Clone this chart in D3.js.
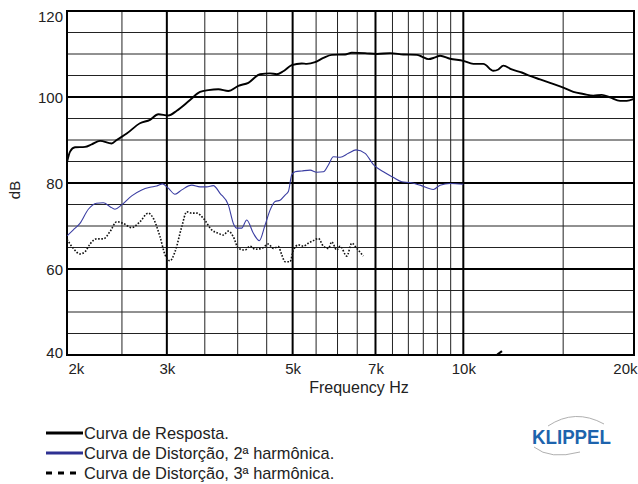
<!DOCTYPE html>
<html><head><meta charset="utf-8">
<script src="https://cdn.jsdelivr.net/npm/d3@7"></script>
<style>body{margin:0;background:#fff} svg{display:block} text{font-family:"Liberation Sans",Arial,sans-serif}</style>
</head><body><svg id="c" width="638" height="484"></svg>
<script>
// ---- data ----
const respFreq = [2000,2025,2066,2152,2211,2287,2398,2447,2549,2690,2802,2898,3018,3123,3296,3433,3550,3698,3851,4011,4177,4380,4562,4688,4815,4982,5189,5295,5477,5665,5861,6187,6358,6711,7037,7428,7840,8278,8448,8677,8916,9099,9476,10000,10416,10847,11297,11529,11765,12173,12677,13112,13655,14221,15012,15634,16282,16957,17545,18146,18898,19420,19943];
const respDb   = [84.8,87.3,88.3,88.4,89.0,89.8,89.2,90.0,91.5,93.9,94.7,96.0,95.7,96.8,99.3,101.2,101.6,101.8,101.4,102.6,103.3,105.3,105.5,105.3,106.0,107.4,107.8,107.7,108.1,109.1,109.8,109.9,110.3,110.2,110.0,110.2,109.9,109.8,109.4,108.8,109.2,109.6,108.9,108.4,107.7,107.7,106.1,106.4,107.3,106.4,105.7,104.9,104.1,103.3,102.2,101.2,100.7,100.3,100.5,99.9,99.1,99.1,99.5];

const h2Freq = [2000,2052,2108,2181,2256,2318,2382,2430,2497,2601,2709,2802,2879,2950,3018,3101,3187,3319,3433,3527,3623,3723,3851,3930,3985,4066,4150,4263,4368,4470,4562,4656,4751,4849,4914,4982,5050,5189,5367,5515,5665,5781,5900,6063,6270,6470,6711,6941,7229,7528,7789,8056,8389,8855,9099,9476,10000];
const h2Db   = [67.7,69.1,70.6,73.9,75.3,75.4,74.5,73.9,74.9,77.0,78.4,79.0,79.3,79.8,78.8,77.4,78.4,79.5,79.1,79.1,79.4,77.6,74.9,70.6,69.5,69.5,71.4,68.3,66.6,70.2,73.7,75.7,76.0,77.2,78.0,81.9,82.6,82.8,83.0,82.5,82.6,84.2,86.1,86.0,86.9,87.7,86.9,84.3,82.6,81.3,80.3,80.1,79.5,78.5,79.5,79.9,79.7];

const h3Freq = [2000,2052,2108,2152,2196,2256,2318,2382,2447,2514,2601,2690,2782,2839,2918,2978,3039,3101,3187,3252,3319,3387,3479,3600,3698,3773,3851,3930,4011,4121,4206,4292,4411,4531,4624,4718,4784,4849,4948,5015,5118,5223,5330,5439,5551,5665,5781,5861,5982,6063,6230,6358,6488,6664];
const h3Db   = [66.9,64.8,63.5,64.0,65.8,67.0,67.0,68.7,71.0,70.6,69.6,71.0,73.0,71.8,67.5,63.3,61.9,64.0,69.8,73.3,73.0,73.0,71.8,69.1,68.3,67.9,68.8,67.5,64.8,64.4,65.3,64.6,64.8,65.8,64.8,65.2,63.3,61.7,61.7,64.4,65.6,65.3,66.0,66.6,67.1,65.3,64.8,66.3,64.4,65.3,63.0,66.0,64.8,63.0];

const strayFreq = [11480,11700];
const strayDb   = [40.1,40.9];

const freqTicks  = [2000,3000,5000,7000,10000,20000];
const freqLabels = ["2k","3k","5k","7k","10k","20k"];
const freqMajor  = [3000,5000,7000,10000];
const freqMinor  = [2500,3500,4000,4500,5500,6000,6500,7500,8000,8500,9000,9500,15000];
const dbTicks    = [40,60,80,100,120];
const dbMajor    = [60,80,100];
const dbMinor    = [45,50,55,65,70,75,85,90,95,105,110,115];

const legendLabels = ["Curva de Resposta.","Curva de Distorção, 2ª harmônica.","Curva de Distorção, 3ª harmônica."];

// ---- chart ----
const svg = d3.select("#c");
const L=67,R=634,T=11,B=355;
const x = d3.scaleLog().domain([2000,20000]).range([L,R]);
const y = d3.scaleLinear().domain([40,120]).range([B,T]);

const g = svg.append("g");
g.selectAll(".hm").data(dbMinor).join("line").attr("x1",L).attr("x2",R)
  .attr("y1",d=>y(d)).attr("y2",d=>y(d)).attr("stroke","#222").attr("stroke-width",1);
g.selectAll(".vm").data(freqMinor).join("line").attr("y1",T).attr("y2",B)
  .attr("x1",d=>x(d)).attr("x2",d=>x(d)).attr("stroke","#222").attr("stroke-width",1);
g.selectAll(".hM").data(dbMajor).join("line").attr("x1",L).attr("x2",R)
  .attr("y1",d=>y(d)).attr("y2",d=>y(d)).attr("stroke","#000").attr("stroke-width",2);
g.selectAll(".vM").data(freqMajor).join("line").attr("y1",T).attr("y2",B)
  .attr("x1",d=>x(d)).attr("x2",d=>x(d)).attr("stroke","#000").attr("stroke-width",2);
g.append("rect").attr("x",L).attr("y",T).attr("width",R-L).attr("height",B-T)
  .attr("fill","none").attr("stroke","#000").attr("stroke-width",2);

const ya = svg.append("g").attr("transform",`translate(${L},0)`)
  .call(d3.axisLeft(y).tickValues(dbTicks).tickSize(0).tickPadding(4));
ya.select(".domain").remove();
ya.selectAll("text").attr("font-size",15).attr("fill","#222")
  .style("font-family",'"Liberation Sans",Arial,sans-serif')
  .attr("dy",d=>d===120?"0.7em":d===40?"0.18em":"0.35em");

const xa = svg.append("g").attr("transform",`translate(0,${B})`)
  .call(d3.axisBottom(x).tickValues(freqTicks).tickFormat((d,i)=>freqLabels[i]).tickSize(0).tickPadding(8));
xa.select(".domain").remove();
xa.selectAll("text").attr("font-size",15).attr("fill","#222")
  .style("font-family",'"Liberation Sans",Arial,sans-serif')
  .attr("text-anchor",d=>d===2000?"start":d===20000?"end":"middle")
  .attr("x",d=>d===2000?1:d===20000?3:0);

svg.append("text").attr("x",359).attr("y",393).attr("text-anchor","middle")
  .attr("font-size",16).attr("fill","#222").text("Frequency Hz");
svg.append("text").attr("transform","translate(20,190) rotate(-90)").attr("text-anchor","middle")
  .attr("font-size",15).attr("fill","#222").text("dB");

const line = d3.line().x(d=>x(d[0])).y(d=>y(d[1])).curve(d3.curveMonotoneX);
const zip = (a,b)=>a.map((v,i)=>[v,b[i]]);
svg.append("clipPath").attr("id","pc").append("rect")
  .attr("x",L).attr("y",T).attr("width",R-L).attr("height",B-T);
const cg = svg.append("g").attr("clip-path","url(#pc)");
cg.append("path").attr("d",line(zip(h3Freq,h3Db))).attr("fill","none")
  .attr("stroke","#111").attr("stroke-width",1.6).attr("stroke-dasharray","1.6,1.6");
cg.append("path").attr("d",line(zip(h2Freq,h2Db))).attr("fill","none")
  .attr("stroke","#3a3da2").attr("stroke-width",1.1);
cg.append("path").attr("d",line(zip(respFreq,respDb))).attr("fill","none")
  .attr("stroke","#000").attr("stroke-width",1.9);
cg.append("path").attr("d",line(zip(strayFreq,strayDb))).attr("fill","none")
  .attr("stroke","#000").attr("stroke-width",2.2);

const lg = svg.append("g");
const lstyles = [{c:"#000",da:null},{c:"#2e3192",da:null},{c:"#000",da:"6,6"}];
legendLabels.forEach((t,i)=>{
  const yy = 433 + i*20;
  lg.append("line").attr("x1",46).attr("x2",i===2?80:83).attr("y1",yy).attr("y2",yy)
    .attr("stroke",lstyles[i].c).attr("stroke-width",3).attr("stroke-dasharray",lstyles[i].da);
  lg.append("text").attr("x",84).attr("y",yy+5.5).attr("font-size",16.4).attr("fill","#222").text(t);
});

const lo = svg.append("g");
lo.append("path").attr("d","M548,426 Q575,408 604,424").attr("fill","none").attr("stroke","#9a9a9a").attr("stroke-width",0.8);
lo.append("path").attr("d","M534,447 Q550,460 580,452").attr("fill","none").attr("stroke","#9a9a9a").attr("stroke-width",0.8);
lo.append("text").attr("x",532).attr("y",444).attr("font-size",20).attr("font-weight","bold")
  .attr("fill","#1d63ad").attr("textLength",79).attr("lengthAdjust","spacingAndGlyphs").text("KLIPPEL");
</script></body></html>
